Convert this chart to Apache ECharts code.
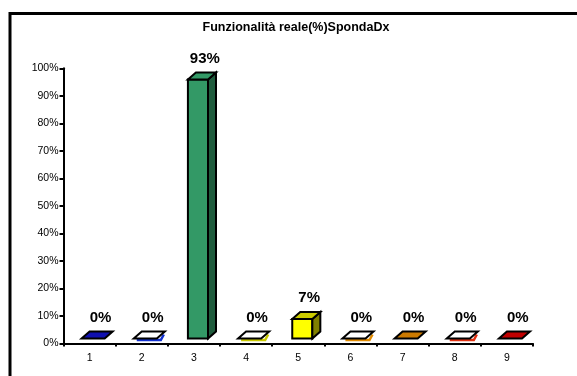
<!DOCTYPE html>
<html>
<head>
<meta charset="utf-8">
<script src="https://cdn.jsdelivr.net/npm/echarts@6/dist/echarts.min.js"></script>
<style>
html,body{margin:0;padding:0;background:#fff;}
#chart{width:577px;height:376px;}
</style>
</head>
<body>
<div id="chart"></div>
<script>
// ---- data ----
var titleText = 'Funzionalità reale(%)SpondaDx';
var categories = ['1','2','3','4','5','6','7','8','9'];
var values = [0, 0, 93, 0, 7, 0, 0, 0, 0];
var yTicks = [0,10,20,30,40,50,60,70,80,90,100];

// ---- styles ----
var frontColors = ['#000080','#0000ff','#339966','#339966','#ffff00','#ff9900','#cc6600','#ff3300','#cc0000'];
var topColors   = ['#1010b0','#ffffff','#339966','#ffffff','#cccc00','#ffffff','#cc7a00','#ffffff','#c00000'];
var sideColors  = ['#000050','#0000a0','#1f5c3d','#1f5c3d','#808000','#b36b00','#804000','#a02000','#800000'];
var accentColors= [null,'#1030d0',null,'#c8c800',null,'#e08a00',null,'#e03010',null];

var chart = echarts.init(document.getElementById('chart'), null, {renderer:'canvas'});

function renderItem(params, api) {
  var i = api.value(0);
  var v = api.value(1);
  var base = api.coord([i, 0]);
  var topP = api.coord([i, v]);
  var bw = api.size([1, 0])[0];
  var cx = base[0];
  var k = 1.012;
  var y0 = base[1] - 5;
  var yT = y0 - (base[1] - topP[1]) * k;
  var flat = (y0 - yT) <= 0.5;
  var x0 = cx - 0.115 * bw - (flat ? 2 : 0);
  var x1 = cx + 0.27 * bw + (flat ? 1 : 0);
  var dx = 8, dy = 7;
  var children = [];
  var stroke = {stroke:'#000', lineWidth:2, lineJoin:'miter'};
  if (accentColors[i]) {
    children.push({type:'polyline', shape:{points:[[x0+3, y0+1.5],[x1+dx-4, y0+1.5],[x1+dx-1, y0-dy+3]]},
      style:{stroke:accentColors[i], lineWidth:2.5, fill:null}});
  }
  if (!flat) {
    children.push({type:'rect', shape:{x:x0, y:yT, width:x1-x0, height:y0-yT},
      style:Object.assign({fill:frontColors[i]}, stroke)});
    children.push({type:'polygon', shape:{points:[[x1,yT],[x1+dx,yT-dy],[x1+dx,y0-dy],[x1,y0]]},
      style:Object.assign({fill:sideColors[i]}, stroke)});
  }
  children.push({type:'polygon', shape:{points:[[x0,yT],[x0+dx,yT-dy],[x1+dx,yT-dy],[x1,yT]]},
    style:Object.assign({fill:topColors[i]}, stroke)});
  children.push({type:'text', style:{text: v + '%', x: cx + 0.21*bw, y: yT - 21,
    align:'center', verticalAlign:'middle', fill:'#000',
    font:'bold 15px "Liberation Sans", Arial, sans-serif'}});
  return {type:'group', children:children};
}

var option = {
  animation:false,
  backgroundColor:'#fff',
  graphic:[
    {type:'rect', shape:{x:10, y:13.5, width:600, height:400}, style:{fill:null, stroke:'#000', lineWidth:3}, z:100},
    {type:'text', style:{text:titleText, x:296, y:28, align:'center', verticalAlign:'middle',
      fill:'#000', font:'bold 12.5px "Liberation Sans", Arial, sans-serif'}}
  ],
  grid:{left:63.5, top:68.3, width:469.5, height:275.2, containLabel:false},
  xAxis:{
    type:'category', data:categories, boundaryGap:true,
    axisLine:{show:true, lineStyle:{color:'#000', width:2}},
    axisTick:{show:true, length:3, lineStyle:{color:'#000', width:2}},
    axisLabel:{color:'#000', fontSize:10.5, margin:9, fontFamily:'"Liberation Sans", Arial, sans-serif'},
    splitLine:{show:false}
  },
  yAxis:{
    type:'value', min:yTicks[0], max:yTicks[yTicks.length-1], interval:yTicks[1]-yTicks[0],
    axisLine:{show:true, lineStyle:{color:'#000', width:2}},
    axisTick:{show:true, length:4, lineStyle:{color:'#000', width:2}},
    axisLabel:{color:'#000', fontSize:10.5, margin:5, formatter:'{value}%', fontFamily:'"Liberation Sans", Arial, sans-serif'},
    splitLine:{show:false}
  },
  series:[{
    type:'custom',
    renderItem:renderItem,
    encode:{x:0, y:1},
    data:categories.map(function(c, i){ return [i, values[i]]; }),
    clip:false,
    z:10
  }]
};
chart.setOption(option);
</script>
</body>
</html>
